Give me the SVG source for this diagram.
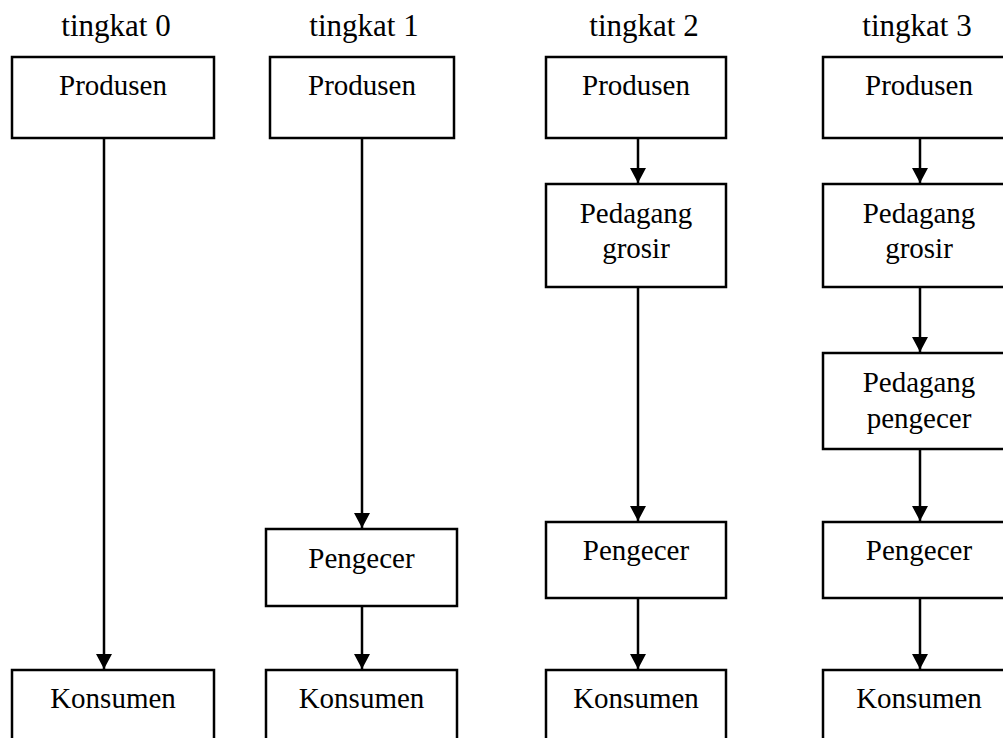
<svg xmlns="http://www.w3.org/2000/svg" width="1003" height="738" viewBox="0 0 1003 738">
  <style>
    .box { fill: #ffffff; stroke: #000000; stroke-width: 2.5; }
    .lbl { font-family: "Liberation Serif", "Times New Roman", serif; font-size: 29px; fill: #000000; text-anchor: middle; }
    .hdr { font-family: "Liberation Serif", "Times New Roman", serif; font-size: 31px; fill: #000000; text-anchor: middle; }
    .link { stroke: #000000; stroke-width: 2.5; fill: none; marker-end: url(#arrow); }
  </style>
  <defs>
    <marker id="arrow" markerUnits="userSpaceOnUse" markerWidth="16" markerHeight="16" refX="15" refY="8" orient="auto">
      <path d="M0,0 L15,8 L0,16 Z" fill="#000000"/>
    </marker>
  </defs>
  <rect width="1003" height="738" fill="#ffffff"/>

  <!-- column headings -->
  <g id="headings">
    <text class="hdr" x="116" y="36">tingkat 0</text>
    <text class="hdr" x="364" y="36">tingkat 1</text>
    <text class="hdr" x="644" y="36">tingkat 2</text>
    <text class="hdr" x="917" y="36">tingkat 3</text>
  </g>

  <!-- connectors -->
  <g id="connectors">
    <line class="link" x1="104" y1="139" x2="104" y2="669"/>
    <line class="link" x1="362" y1="139" x2="362" y2="528"/>
    <line class="link" x1="362" y1="607" x2="362" y2="669"/>
    <line class="link" x1="638" y1="139" x2="638" y2="183"/>
    <line class="link" x1="638" y1="288" x2="638" y2="521"/>
    <line class="link" x1="638" y1="599" x2="638" y2="669"/>
    <line class="link" x1="920" y1="139" x2="920" y2="183"/>
    <line class="link" x1="920" y1="288" x2="920" y2="352"/>
    <line class="link" x1="920" y1="450" x2="920" y2="521"/>
    <line class="link" x1="920" y1="599" x2="920" y2="669"/>
  </g>

  <!-- tingkat 0 -->
  <g id="t0-produsen">
    <rect class="box" x="12" y="57" width="202" height="81"/>
    <text class="lbl" x="113" y="95">Produsen</text>
  </g>
  <g id="t0-konsumen">
    <rect class="box" x="12" y="670" width="202" height="90"/>
    <text class="lbl" x="113" y="708">Konsumen</text>
  </g>

  <!-- tingkat 1 -->
  <g id="t1-produsen">
    <rect class="box" x="270" y="57" width="184" height="81"/>
    <text class="lbl" x="362" y="95">Produsen</text>
  </g>
  <g id="t1-pengecer">
    <rect class="box" x="266" y="529" width="191" height="77"/>
    <text class="lbl" x="361.5" y="568">Pengecer</text>
  </g>
  <g id="t1-konsumen">
    <rect class="box" x="266" y="670" width="191" height="90"/>
    <text class="lbl" x="361.5" y="708">Konsumen</text>
  </g>

  <!-- tingkat 2 -->
  <g id="t2-produsen">
    <rect class="box" x="546" y="57" width="180" height="81"/>
    <text class="lbl" x="636" y="95">Produsen</text>
  </g>
  <g id="t2-grosir">
    <rect class="box" x="546" y="184" width="180" height="103"/>
    <text class="lbl" x="636" y="223">Pedagang</text>
    <text class="lbl" x="636" y="258">grosir</text>
  </g>
  <g id="t2-pengecer">
    <rect class="box" x="546" y="522" width="180" height="76"/>
    <text class="lbl" x="636" y="560">Pengecer</text>
  </g>
  <g id="t2-konsumen">
    <rect class="box" x="546" y="670" width="180" height="90"/>
    <text class="lbl" x="636" y="708">Konsumen</text>
  </g>

  <!-- tingkat 3 -->
  <g id="t3-produsen">
    <rect class="box" x="823" y="57" width="194" height="81"/>
    <text class="lbl" x="919" y="95">Produsen</text>
  </g>
  <g id="t3-grosir">
    <rect class="box" x="823" y="184" width="194" height="103"/>
    <text class="lbl" x="919" y="223">Pedagang</text>
    <text class="lbl" x="919" y="258">grosir</text>
  </g>
  <g id="t3-pedagang-pengecer">
    <rect class="box" x="823" y="353" width="194" height="96"/>
    <text class="lbl" x="919" y="392">Pedagang</text>
    <text class="lbl" x="919" y="428">pengecer</text>
  </g>
  <g id="t3-pengecer">
    <rect class="box" x="823" y="522" width="194" height="76"/>
    <text class="lbl" x="919" y="560">Pengecer</text>
  </g>
  <g id="t3-konsumen">
    <rect class="box" x="823" y="670" width="194" height="90"/>
    <text class="lbl" x="919" y="708">Konsumen</text>
  </g>
</svg>
